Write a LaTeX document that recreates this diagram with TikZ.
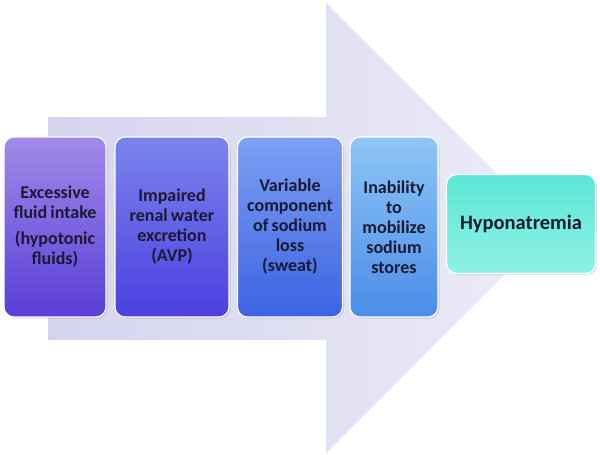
\documentclass[tikz,border=0pt]{standalone}
\usepackage{fontspec}
\setmainfont{Carlito}
\usetikzlibrary{shadows}
\definecolor{txt}{HTML}{1A1A35}
\definecolor{arrowL}{HTML}{D4D4EE}
\definecolor{arrowR}{HTML}{ECECF8}
\definecolor{b1t}{HTML}{A08AE8}
\definecolor{b1b}{HTML}{5A3ED8}
\definecolor{b2t}{HTML}{7C84EC}
\definecolor{b2b}{HTML}{4A40E0}
\definecolor{b3t}{HTML}{7CA0F2}
\definecolor{b3b}{HTML}{3C62E2}
\definecolor{b4t}{HTML}{8EC6F6}
\definecolor{b4b}{HTML}{4A8CE8}
\definecolor{b5t}{HTML}{5CE6D6}
\definecolor{b5b}{HTML}{8EF2E2}
\tikzset{
  box/.style={rectangle, rounded corners=10pt, draw=white, line width=1.2pt,
    inner sep=1pt, align=center, text=txt,
    font=\fontsize{18}{20}\selectfont\bfseries,
    execute at begin node={\spaceskip=0.17em\relax},
    drop shadow={shadow xshift=1.5pt, shadow yshift=-1.5pt, opacity=0.25}},
  tall/.style={minimum height=180pt},
  bigarrow/.style={left color=arrowL, right color=arrowR, draw=none}
}
\begin{document}
\begin{tikzpicture}[x=1pt,y=-1pt]
\useasboundingbox (0,0) rectangle (600,455);
\fill[white] (0,0) rectangle (600,455);
% big background arrow
\path[bigarrow] (48,117) -- (326,117) -- (326,3) -- (551,228) -- (326,453) -- (326,340) -- (48,340) -- cycle;
% boxes
\node[box, tall, minimum width=102pt, text width=100pt, top color=b1t, bottom color=b1b] (b1) at (55,227)
  {Excessive\\fluid intake\\[6pt](hypotonic\\fluids)};
\node[box, tall, minimum width=114pt, text width=112pt, top color=b2t, bottom color=b2b] (b2) at (172,227)
  {Impaired\\renal water\\excretion\\(AVP)};
\node[box, tall, minimum width=105pt, text width=103pt, top color=b3t, bottom color=b3b] (b3) at (290,227)
  {Variable\\component\\of sodium\\loss\\(sweat)};
\node[box, tall, minimum width=88pt, text width=86pt, top color=b4t, bottom color=b4b] (b4) at (394,227)
  {Inability\\to\\mobilize\\sodium\\stores};
\node[box, minimum width=149pt, minimum height=99pt, text width=147pt, top color=b5t, bottom color=b5b,
  font=\fontsize{20.5}{22}\selectfont\bfseries] (b5) at (521,224)
  {Hyponatremia};
\end{tikzpicture}
\end{document}
